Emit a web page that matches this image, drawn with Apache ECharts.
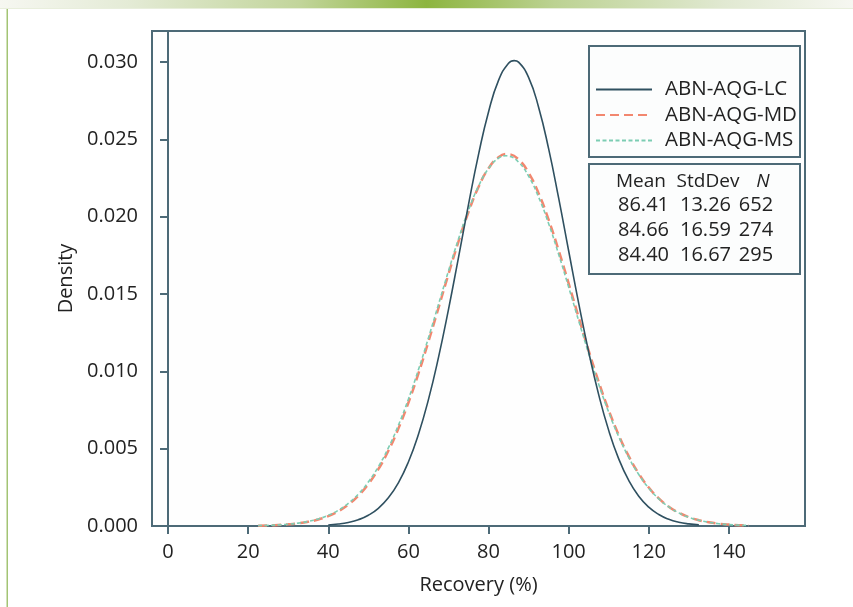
<!DOCTYPE html>
<html><head><meta charset="utf-8">
<script src="https://cdn.jsdelivr.net/npm/echarts@6/dist/echarts.min.js"></script>
<style>html,body{margin:0;padding:0;background:#fff;}#chart{width:853px;height:607px;}</style>
</head><body><div id="chart"></div>
<script>
// ---- data (normal density curves) ----
const seriesNames = ['ABN-AQG-LC', 'ABN-AQG-MD', 'ABN-AQG-MS'];

const lcX = [40, 42.5, 45, 47.5, 50, 52.5, 55, 57.5, 60, 62.5, 65, 67.5, 70, 72.5, 75, 77.5, 80, 82.5, 85, 86.41, 87.5, 90, 92.5, 95, 97.5, 100, 102.5, 105, 107.5, 110, 112.5, 115, 117.5, 120, 122.5, 125, 127.5, 130, 132.5];
const lcY = [0.0000658, 0.0001251, 0.0002295, 0.000406, 0.0006936, 0.0011435, 0.0018194, 0.0027936, 0.0041395, 0.0059195, 0.0081708, 0.010883, 0.013989, 0.017355, 0.020777, 0.024006, 0.026768, 0.028806, 0.029916, 0.030086, 0.029985, 0.029003, 0.027074, 0.024391, 0.021207, 0.017794, 0.014409, 0.011261, 0.0084929, 0.0061817, 0.0043423, 0.0029437, 0.0019259, 0.001216, 0.000741, 0.0004358, 0.0002473, 0.0001354, 0.0000716];

const mdX = [22.5, 25, 27.5, 30, 32.5, 35, 37.5, 40, 42.5, 45, 47.5, 50, 52.5, 55, 57.5, 60, 62.5, 65, 67.5, 70, 72.5, 75, 77.5, 80, 82.5, 84.66, 85, 87.5, 90, 92.5, 95, 97.5, 100, 102.5, 105, 107.5, 110, 112.5, 115, 117.5, 120, 122.5, 125, 127.5, 130, 132.5, 135, 137.5, 140, 142.5, 145];
const mdY = [0.0000215, 0.0000374, 0.0000636, 0.0001056, 0.0001716, 0.0002725, 0.000423, 0.0006419, 0.0009521, 0.0013806, 0.001957, 0.0027118, 0.0036733, 0.004864, 0.0062961, 0.0079666, 0.0098543, 0.011916, 0.014084, 0.016274, 0.018382, 0.020297, 0.021909, 0.023117, 0.023844, 0.024047, 0.024042, 0.023697, 0.022833, 0.021506, 0.019802, 0.017823, 0.015682, 0.013488, 0.011341, 0.0093214, 0.0074894, 0.0058824, 0.0045165, 0.0033899, 0.0024871, 0.0017839, 0.0012507, 0.0008572, 0.0005743, 0.0003762, 0.0002408, 0.0001507, 0.0000922, 0.0000552, 0.0000322];

const msX = [22.5, 25, 27.5, 30, 32.5, 35, 37.5, 40, 42.5, 45, 47.5, 50, 52.5, 55, 57.5, 60, 62.5, 65, 67.5, 70, 72.5, 75, 77.5, 80, 82.5, 84.4, 85, 87.5, 90, 92.5, 95, 97.5, 100, 102.5, 105, 107.5, 110, 112.5, 115, 117.5, 120, 122.5, 125, 127.5, 130, 132.5, 135, 137.5, 140, 142.5, 145];
const msY = [0.0000243, 0.0000419, 0.0000706, 0.0001166, 0.000188, 0.0002965, 0.0004573, 0.0006895, 0.0010165, 0.0014653, 0.0020653, 0.0028463, 0.0038352, 0.005053, 0.0065094, 0.0081988, 0.010097, 0.012159, 0.014315, 0.01648, 0.018549, 0.020414, 0.021967, 0.023113, 0.023777, 0.023932, 0.023916, 0.023522, 0.022619, 0.021267, 0.019552, 0.017574, 0.015446, 0.013273, 0.011153, 0.0091624, 0.0073599, 0.0057805, 0.0044391, 0.0033331, 0.0024471, 0.0017566, 0.0012329, 0.0008461, 0.0005677, 0.0003725, 0.0002389, 0.0001499, 0.0000919, 0.0000551, 0.0000323];

const xTicks = [0, 20, 40, 60, 80, 100, 120, 140];
const yTicks = [0, 0.005, 0.010, 0.015, 0.020, 0.025, 0.030];

const statHeaders = ['Mean', 'StdDev', 'N'];
const means = ['86.41', '84.66', '84.40'];
const stdevs = ['13.26', '16.59', '16.67'];
const counts = ['652', '274', '295'];

// ---- chart ----
const FONT = 'Open Sans';
const FS = 20;
const FRAME = '#4d6a77';
const TXT = '#222';
const pairs = (xs, ys) => xs.map((x, i) => [x, ys[i]]);

const chart = echarts.init(document.getElementById('chart'), null, {renderer: 'canvas'});

const tableCols = [643.5, 705.5, 756];
const headerCols = [641, 708, 763];
const tableRows = [205, 230, 255];
const tableGraphics = [];
statHeaders.forEach((h, j) => {
  tableGraphics.push({type: 'text', x: headerCols[j], y: 182, z: 10,
    style: {text: h, font: (j === 2 ? 'italic ' : '') + '19px "' + FONT + '"', fill: TXT, textAlign: 'center', textVerticalAlign: 'middle'}});
});
[means, stdevs, counts].forEach((col, j) => {
  col.forEach((v, i) => {
    tableGraphics.push({type: 'text', x: tableCols[j], y: tableRows[i], z: 10,
      style: {text: v, font: FS + 'px "' + FONT + '"', fill: TXT, textAlign: 'center', textVerticalAlign: 'middle'}});
  });
});

const option = {
  animation: false,
  backgroundColor: '#ffffff',
  textStyle: {fontFamily: FONT},
  grid: {left: 152, right: 48, top: 31, bottom: 81, show: true, borderColor: FRAME, borderWidth: 2, backgroundColor: '#fefefe', containLabel: false},
  xAxis: {
    type: 'value', min: -4, max: 159,
    name: 'Recovery (%)', nameLocation: 'middle', nameGap: 49,
    nameTextStyle: {fontSize: FS, color: TXT, fontFamily: FONT},
    axisLine: {show: true, lineStyle: {color: FRAME, width: 2}},
    axisTick: {show: true, length: 8, lineStyle: {color: FRAME, width: 2}, customValues: xTicks},
    axisLabel: {fontSize: FS, color: TXT, fontFamily: FONT, margin: 16, customValues: xTicks},
    splitLine: {show: false}
  },
  yAxis: {
    type: 'value', min: 0, max: 0.032,
    name: 'Density', nameLocation: 'middle', nameGap: 74, nameRotate: 90,
    nameTextStyle: {fontSize: FS, color: TXT, fontFamily: FONT},
    axisLine: {show: true, lineStyle: {color: FRAME, width: 2}},
    axisTick: {show: true, length: 8, lineStyle: {color: FRAME, width: 2}, customValues: yTicks},
    axisLabel: {fontSize: FS, color: TXT, fontFamily: FONT, margin: 14, customValues: yTicks,
      formatter: v => v.toFixed(3)},
    splitLine: {show: false}
  },
  legend: {
    orient: 'vertical', left: 595, top: 79, padding: 0,
    itemWidth: 56, itemHeight: 14, itemGap: 4.5,
    data: seriesNames,
    itemStyle: {color: 'rgba(0,0,0,0)', borderWidth: 0, opacity: 0},
    textStyle: {fontSize: 20.5, color: TXT, fontFamily: FONT, lineHeight: 20, padding: [0, 0, 0, 8]},
    selectedMode: false, z: 10
  },
  series: [
    {name: seriesNames[0], type: 'line', data: pairs(lcX, lcY), smooth: true, showSymbol: false, symbol: 'none',
      lineStyle: {color: '#2f5060', width: 1.6, type: 'solid'}, itemStyle: {color: '#2f5060'}, z: 5},
    {name: seriesNames[1], type: 'line', data: pairs(mdX, mdY), smooth: true, showSymbol: false, symbol: 'none',
      lineStyle: {color: '#f2876f', width: 2.5, type: [9, 5]}, itemStyle: {color: '#f2876f'}, z: 3},
    {name: seriesNames[2], type: 'line', data: pairs(msX, msY), smooth: true, showSymbol: false, symbol: 'none',
      lineStyle: {color: '#7ccdb3', width: 1.6, type: [4, 2.5]}, itemStyle: {color: '#7ccdb3'}, z: 4}
  ],
  graphic: [
    {type: 'rect', left: 0, top: 0, z: 0, silent: true,
      shape: {width: 853, height: 8},
      style: {fill: new echarts.graphic.LinearGradient(0, 0, 1, 0, [
        {offset: 0, color: '#f6f7f1'}, {offset: 0.15, color: '#e4ebd6'}, {offset: 0.35, color: '#c2d59b'},
        {offset: 0.5, color: '#8db53f'}, {offset: 0.65, color: '#bcd292'}, {offset: 0.85, color: '#e1e9d2'},
        {offset: 1, color: '#f6f7f1'}])}},
    {type: 'rect', left: 0, top: 8, z: 0, silent: true, shape: {width: 853, height: 1}, style: {fill: '#e8eedc'}},
    {type: 'rect', left: 6.5, top: 9, z: 0, silent: true, shape: {width: 1.5, height: 598}, style: {fill: '#a3c474'}},
    {type: 'rect', left: 588, top: 45, z: 6, silent: true, shape: {width: 211, height: 111},
      style: {fill: '#fcfdfd', stroke: FRAME, lineWidth: 2}},
    {type: 'rect', left: 588, top: 163, z: 6, silent: true, shape: {width: 211, height: 110},
      style: {fill: '#fcfdfd', stroke: FRAME, lineWidth: 2}}
  ].concat(tableGraphics)
};
chart.setOption(option);
</script>
</body></html>
